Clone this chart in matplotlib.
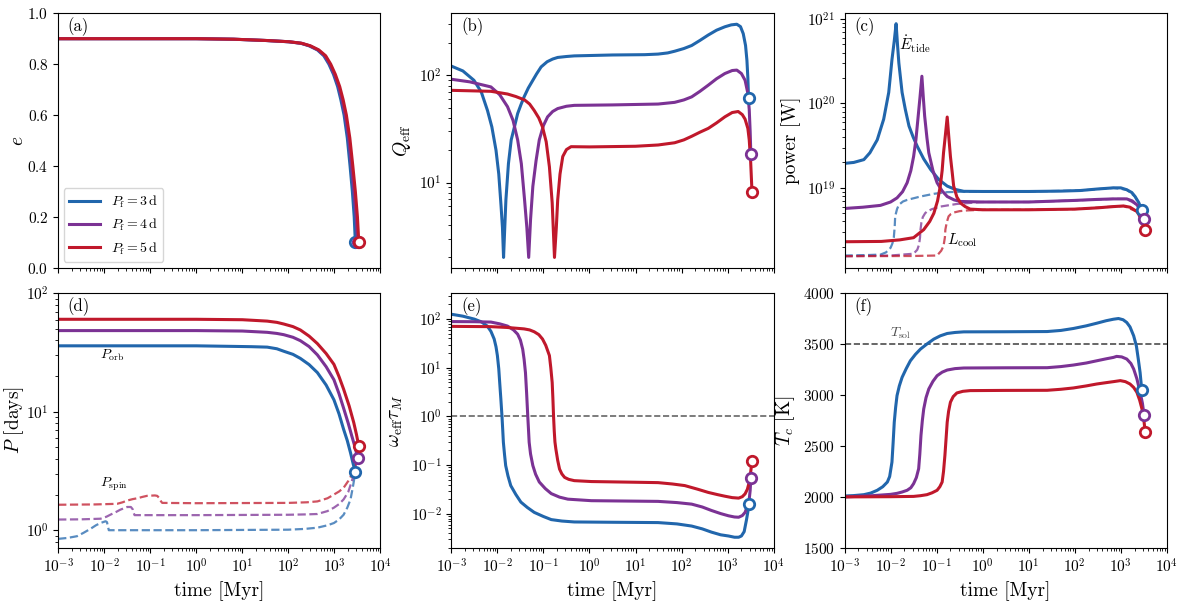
import numpy as np
import matplotlib
matplotlib.use('Agg')
import matplotlib.pyplot as plt

plt.rcParams['font.family'] = 'serif'
plt.rcParams['font.serif'] = ['cmr10', 'DejaVu Serif']
plt.rcParams['mathtext.fontset'] = 'cm'
plt.rcParams['axes.formatter.use_mathtext'] = True
plt.rcParams['axes.unicode_minus'] = False

# colours for P_f = 3, 4, 5 d
colors = ['#2166ac', '#7b3294', '#c0182b']
labels = [r'$P_{\rm f}=3\,{\rm d}$', r'$P_{\rm f}=4\,{\rm d}$', r'$P_{\rm f}=5\,{\rm d}$']

# all times are log10(t / Myr)

# ---- (a) eccentricity
e_track = [0.9, 0.9, 0.898, 0.893, 0.888, 0.882, 0.872, 0.856, 0.833, 0.80, 0.76, 0.712, 0.66, 0.60,
           0.51, 0.40, 0.30, 0.20, 0.10]
lt_e_3 = [-3, 0, 0.8, 1.5, 2.0, 2.27, 2.45, 2.63, 2.77, 2.88, 2.98, 3.07, 3.14, 3.21, 3.28, 3.34,
          3.39, 3.43, 3.455]
lt_e_4 = [-3, 0, 0.81, 1.51, 2.01, 2.28, 2.465, 2.645, 2.79, 2.9, 3.0, 3.095, 3.165, 3.235, 3.31,
          3.37, 3.425, 3.47, 3.505]
lt_e_5 = [-3, 0, 0.82, 1.52, 2.02, 2.29, 2.48, 2.66, 2.81, 2.92, 3.02, 3.115, 3.19, 3.26, 3.335,
          3.4, 3.455, 3.5, 3.53]

# ---- (b) Q_eff
lt_q_3 = [-3, -2.75, -2.51, -2.35, -2.215, -2.12, -2.03, -1.97, -1.92, -1.89, -1.866, -1.84, -1.815,
          -1.76, -1.7, -1.63, -1.56, -1.49, -1.42, -1.33, -1.23, -1.15, -1.05, -0.92, -0.8, -0.69,
          -0.5, -0.33, 0.5, 1.2, 1.49, 1.7, 1.85, 2.05, 2.22, 2.4, 2.58, 2.76, 2.94, 3.08, 3.2, 3.28,
          3.34, 3.39, 3.42, 3.44, 3.455]
q_3 = [122, 110, 90, 70, 47, 33, 20, 12, 6, 3.8, 2, 3.8, 6.9, 15, 25, 33, 44, 53, 63, 76, 90, 103,
       120, 134, 142, 147, 150, 152, 155, 156, 158, 162, 168, 178, 190, 212, 238, 264, 284, 296, 300,
       285, 245, 190, 138, 95, 61]
lt_q_4 = [-3, -2.6, -2.14, -1.95, -1.78, -1.66, -1.56, -1.48, -1.41, -1.36, -1.32, -1.28, -1.23,
          -1.16, -1.09, -1.0, -0.91, -0.8, -0.69, -0.5, -0.33, 0.5, 1.49, 1.85, 2.05, 2.22, 2.4,
          2.58, 2.76, 2.94, 3.1, 3.2, 3.3, 3.38, 3.44, 3.47, 3.49, 3.505]
q_4 = [92, 87, 78, 66, 51, 38, 25, 15, 6.9, 3.8, 2, 4.5, 9.2, 16, 25, 34, 41, 46, 49, 51.5, 52.5, 53,
       54, 56, 59, 63, 71, 81, 93, 104, 111, 112, 104, 90, 68, 48, 30, 18.5]
lt_q_5 = [-3, -2.14, -1.78, -1.6, -1.41, -1.3, -1.2, -1.1, -1.02, -0.94, -0.87, -0.81, -0.76, -0.72,
          -0.69, -0.64, -0.58, -0.5, -0.4, 0, 1.0, 1.49, 1.85, 2.05, 2.22, 2.4, 2.58, 2.76, 2.94, 3.1,
          3.23, 3.32, 3.38, 3.44, 3.47, 3.5, 3.53]
q_5 = [72.5, 71, 67, 63.5, 59, 54, 47, 40, 33, 24, 14, 6.5, 2, 3.8, 6.9, 12, 17.5, 20.3, 21.6, 21.5,
       21.8, 22.4, 23.5, 25, 27, 29.5, 32, 36, 41, 45, 46, 43, 39, 32, 25, 16, 8.2]

# ---- (c) tidal heating and cooling luminosity [W]
lt_et_3 = [-3, -2.8, -2.58, -2.45, -2.29, -2.15, -2.04, -1.97, -1.92, -1.88, -1.85, -1.82, -1.75,
           -1.68, -1.6, -1.51, -1.42, -1.28, -1.13, -0.95, -0.77, -0.6, -0.41, 0, 1, 1.7, 2.12, 2.5,
           2.84, 3.0, 3.13, 3.24, 3.31, 3.39, 3.457]
et_3 = [1.95e19, 2.0e19, 2.16e19, 2.6e19, 3.7e19, 6.5e19, 1.35e20, 3.3e20, 5.5e20, 8.8e20, 5.0e20,
        3.0e20, 1.35e20, 8.5e19, 5.4e19, 4.0e19, 3.1e19, 2.2e19, 1.65e19, 1.25e19, 1.05e19, 9.6e18,
        9.1e18, 9.06e18, 9.06e18, 9.15e18, 9.3e18, 9.7e18, 1.0e19, 1.0e19, 9.5e18, 8.8e18, 7.9e18,
        6.7e18, 5.45e18]
lt_et_4 = [-3, -2.6, -2.22, -2.0, -1.86, -1.74, -1.64, -1.56, -1.5, -1.45, -1.4, -1.36, -1.32, -1.29,
           -1.26, -1.21, -1.17, -1.08, -0.99, -0.88, -0.77, -0.62, -0.48, 0, 1, 2, 2.5, 2.84, 3.13,
           3.25, 3.35, 3.44, 3.505]
et_4 = [5.7e18, 5.9e18, 6.2e18, 6.8e18, 7.6e18, 9.0e18, 1.15e19, 1.6e19, 2.35e19, 3.7e19, 7.1e19,
        1.2e20, 2.1e20, 1.2e20, 7.1e19, 3.9e19, 2.6e19, 1.6e19, 1.15e19, 9.2e18, 7.9e18, 7.2e18,
        6.9e18, 6.8e18, 6.8e18, 7.1e18, 7.3e18, 7.4e18, 7.4e18, 7.0e18, 6.3e18, 5.4e18, 4.3e18]
lt_et_5 = [-3, -2.2, -1.8, -1.5, -1.28, -1.15, -1.06, -0.98, -0.92, -0.88, -0.85, -0.81, -0.77,
           -0.735, -0.7, -0.66, -0.63, -0.56, -0.48, -0.38, -0.27, 0, 1, 2, 2.5, 2.84, 3.06, 3.2,
           3.35, 3.45, 3.53]
et_5 = [2.3e18, 2.32e18, 2.42e18, 2.57e18, 3.2e18, 4.0e18, 5.0e18, 7.0e18, 1.05e19, 1.6e19, 2.6e19,
        4.2e19, 6.9e19, 4.0e19, 2.35e19, 1.5e19, 1.05e19, 7.8e18, 6.6e18, 6.0e18, 5.6e18, 5.5e18,
        5.5e18, 5.6e18, 5.8e18, 6.0e18, 6.1e18, 5.9e18, 5.25e18, 4.3e18, 3.2e18]

lt_lc_3 = [-3, -2.5, -2.22, -2.1, -2.0, -1.96, -1.93, -1.91, -1.9, -1.86, -1.82, -1.73, -1.64, -1.35,
           -1.06, -0.77, -0.41, 0, 1, 2.12, 2.84, 3.13, 3.31, 3.457]
lc_3 = [1.58e18, 1.6e18, 1.62e18, 1.72e18, 1.95e18, 2.2e18, 2.57e18, 3.5e18, 4.6e18, 5.6e18, 6.3e18,
        6.9e18, 7.2e18, 7.9e18, 8.5e18, 8.9e18, 9.0e18, 9.06e18, 9.06e18, 9.3e18, 1.0e19, 9.5e18,
        7.9e18, 5.45e18]
lt_lc_4 = [-3, -2, -1.5, -1.42, -1.38, -1.36, -1.35, -1.33, -1.3, -1.25, -1.21, -1.1, -0.92, -0.56,
           0, 1, 2, 2.84, 3.13, 3.35, 3.505]
lc_4 = [1.55e18, 1.58e18, 1.66e18, 1.85e18, 2.14e18, 2.6e18, 3.2e18, 3.9e18, 4.5e18, 5.0e18, 5.25e18,
        5.6e18, 6.0e18, 6.45e18, 6.8e18, 6.8e18, 7.1e18, 7.4e18, 7.4e18, 6.3e18, 4.3e18]
lt_lc_5 = [-3, -1.5, -0.99, -0.9, -0.85, -0.82, -0.81, -0.78, -0.74, -0.69, -0.63, -0.5, -0.34, 0,
           1, 2, 2.84, 3.06, 3.35, 3.53]
lc_5 = [1.55e18, 1.56e18, 1.58e18, 1.8e18, 2.05e18, 2.6e18, 3.2e18, 3.9e18, 4.6e18, 4.9e18, 5.1e18,
        5.3e18, 5.4e18, 5.5e18, 5.5e18, 5.6e18, 6.0e18, 6.1e18, 5.25e18, 3.2e18]

# ---- (d) orbital and spin periods [days]
lt_po_3 = [-3, 0, 0.82, 1.2, 1.54, 1.75, 1.9, 2.1, 2.26, 2.45, 2.63, 2.82, 2.99, 3.1, 3.2, 3.28, 3.35,
           3.41, 3.455]
po_3 = [36, 36, 35.6, 35.4, 35.1, 34, 32.4, 30.5, 28.2, 25, 21.4, 16.8, 12.6, 9.6, 7.1, 5.7, 4.5,
        3.6, 3.1]
lt_po_4 = [-3, 0, 1.0, 1.54, 1.75, 1.9, 2.1, 2.26, 2.45, 2.63, 2.82, 2.99, 3.1, 3.2, 3.3, 3.38, 3.45,
           3.505]
po_4 = [48.4, 48.4, 48, 46.8, 45.8, 44.7, 42.5, 39.8, 35.5, 30.2, 24, 18.6, 14.2, 10.7, 8.0, 6.2,
        5.0, 4.07]
lt_po_5 = [-3, 0, 1.0, 1.54, 1.75, 1.9, 2.1, 2.26, 2.45, 2.63, 2.82, 2.99, 3.1, 3.2, 3.32, 3.42, 3.48,
           3.53]
po_5 = [60.3, 60.3, 59.8, 58.2, 56.8, 55, 52.3, 49, 43.5, 37.6, 31, 25.1, 19.8, 15.5, 11.2, 8.1, 6.4,
        5.1]

lt_ps_3 = [-3, -2.8, -2.59, -2.45, -2.3, -2.18, -2.08, -1.97, -1.94, -1.92, -1.9, -1.5, 0, 2, 2.35,
           2.63, 2.85, 2.99, 3.1, 3.2, 3.28, 3.35, 3.4, 3.43, 3.455]
ps_3 = [0.845, 0.86, 0.89, 0.95, 1.026, 1.1, 1.15, 1.19, 1.17, 1.08, 1.0, 1.0, 1.0, 1.01, 1.025,
        1.05, 1.1, 1.15, 1.23, 1.35, 1.55, 1.82, 2.3, 2.7, 3.1]
lt_ps_4 = [-3, -2.5, -2.08, -1.95, -1.86, -1.75, -1.65, -1.5, -1.42, -1.38, -1.36, -1.34, -1.0, 0, 2,
           2.4, 2.63, 2.85, 2.99, 3.1, 3.2, 3.3, 3.38, 3.46, 3.505]
ps_4 = [1.23, 1.235, 1.25, 1.3, 1.355, 1.42, 1.49, 1.57, 1.57, 1.5, 1.4, 1.34, 1.34, 1.34, 1.35,
        1.36, 1.37, 1.45, 1.55, 1.66, 1.82, 2.1, 2.6, 3.47, 4.07]
lt_ps_5 = [-3, -2.2, -1.72, -1.6, -1.5, -1.38, -1.28, -1.17, -1.07, -0.9, -0.85, -0.81, -0.78, -0.74,
           0, 2, 2.4, 2.63, 2.85, 2.99, 3.1, 3.2, 3.3, 3.38, 3.45, 3.5, 3.53]
ps_5 = [1.64, 1.65, 1.67, 1.72, 1.78, 1.83, 1.86, 1.91, 1.95, 1.965, 1.95, 1.88, 1.78, 1.7, 1.69, 1.7,
        1.72, 1.75, 1.86, 2.0, 2.12, 2.28, 2.6, 2.95, 3.5, 4.3, 5.1]

# ---- (e) omega_eff * tau_M
lt_w_3 = [-3, -2.75, -2.5, -2.35, -2.22, -2.14, -2.07, -2.03, -2.0, -1.97, -1.95, -1.925, -1.9,
          -1.885, -1.87, -1.845, -1.82, -1.77, -1.71, -1.6, -1.49, -1.35, -1.2, -1.0, -0.83, -0.6,
          -0.33, 0.5, 1.49, 1.9, 2.22, 2.45, 2.65, 2.85, 3.02, 3.15, 3.24, 3.3, 3.36, 3.41, 3.44,
          3.455]
w_3 = [126, 115, 100, 88, 72, 56, 39, 27, 17.8, 9.5, 5.0, 2.3, 1.0, 0.55, 0.295, 0.165, 0.098, 0.06,
       0.038, 0.025, 0.0174, 0.0135, 0.0107, 0.0088, 0.0076, 0.0071, 0.0068, 0.0067, 0.0066, 0.0062,
       0.0056, 0.0049, 0.0042, 0.0037, 0.0035, 0.0033, 0.0033, 0.0035, 0.0043, 0.0075, 0.011, 0.016]
lt_w_4 = [-3, -2.5, -2.14, -1.95, -1.78, -1.65, -1.56, -1.5, -1.45, -1.42, -1.39, -1.365, -1.34,
          -1.325, -1.31, -1.28, -1.23, -1.17, -1.09, -0.96, -0.83, -0.65, -0.47, 0.04, 1.0, 1.49, 1.9,
          2.22, 2.45, 2.65, 2.85, 3.02, 3.15, 3.24, 3.32, 3.38, 3.43, 3.47, 3.49, 3.505]
w_4 = [89, 88.5, 87, 80, 72, 60, 49, 37, 24, 15, 7.9, 3.0, 1.0, 0.55, 0.295, 0.17, 0.098, 0.065,
       0.045, 0.033, 0.026, 0.022, 0.02, 0.0186, 0.0182, 0.018, 0.017, 0.0158, 0.0138, 0.0117,
       0.0101, 0.0091, 0.0086, 0.0085, 0.0092, 0.0107, 0.0145, 0.02, 0.03, 0.054]
lt_w_5 = [-3, -2.14, -1.8, -1.42, -1.3, -1.2, -1.1, -1.02, -0.95, -0.87, -0.84, -0.81, -0.795, -0.78,
          -0.765, -0.75, -0.73, -0.69, -0.65, -0.6, -0.54, -0.45, -0.33, 0.04, 1.0, 1.49, 1.8, 2.07,
          2.35, 2.58, 2.78, 2.94, 3.1, 3.24, 3.32, 3.38, 3.43, 3.47, 3.5, 3.53]
w_5 = [71, 70, 67.5, 63, 60, 55, 48, 39, 29, 17.8, 10, 5.0, 2.4, 1.0, 0.5, 0.3, 0.214, 0.125, 0.083,
       0.066, 0.056, 0.051, 0.048, 0.046, 0.0445, 0.0437, 0.041, 0.038, 0.032, 0.0275, 0.0248, 0.023,
       0.0215, 0.021, 0.0225, 0.0257, 0.032, 0.0447, 0.07, 0.12]

# ---- (f) core temperature [K]
lt_t_3 = [-3, -2.8, -2.58, -2.43, -2.29, -2.17, -2.07, -2.02, -1.97, -1.945, -1.92, -1.89, -1.86,
          -1.81, -1.75, -1.66, -1.57, -1.46, -1.35, -1.2, -1.06, -0.92, -0.77, -0.6, -0.41, 0.5, 1.4,
          1.7, 1.97, 2.25, 2.48, 2.68, 2.84, 2.95, 3.05, 3.13, 3.2, 3.28, 3.34, 3.38, 3.42, 3.455]
tc_3 = [2009, 2013, 2022, 2038, 2065, 2100, 2146, 2200, 2342, 2530, 2734, 2880, 2995, 3090, 3174,
        3260, 3337, 3400, 3452, 3505, 3550, 3582, 3605, 3615, 3621, 3622, 3624, 3635, 3654, 3680,
        3706, 3730, 3745, 3752, 3740, 3713, 3670, 3582, 3480, 3354, 3220, 3053]
lt_t_4 = [-3, -2.4, -2.0, -1.86, -1.75, -1.64, -1.56, -1.5, -1.44, -1.39, -1.365, -1.34, -1.31, -1.28,
          -1.23, -1.17, -1.08, -0.99, -0.88, -0.77, -0.6, -0.41, 0.5, 1.4, 1.7, 1.97, 2.25, 2.48, 2.68,
          2.84, 2.91, 3.02, 3.13, 3.22, 3.28, 3.35, 3.42, 3.47, 3.505]
tc_4 = [2000, 2012, 2025, 2035, 2048, 2065, 2090, 2130, 2190, 2277, 2420, 2603, 2750, 2864, 2975,
        3060, 3135, 3190, 3225, 3246, 3260, 3266, 3268, 3269, 3280, 3295, 3315, 3337, 3356, 3370,
        3380, 3375, 3354, 3310, 3256, 3160, 3027, 2920, 2805]
lt_t_5 = [-3, -2.0, -1.5, -1.35, -1.21, -1.1, -0.99, -0.93, -0.88, -0.85, -0.82, -0.795, -0.77,
          -0.74, -0.7, -0.64, -0.56, -0.43, -0.27, 0.5, 1.4, 1.7, 1.97, 2.25, 2.48, 2.68, 2.84, 2.99,
          3.1, 3.2, 3.28, 3.35, 3.41, 3.46, 3.5, 3.53]
tc_5 = [2000, 2002, 2005, 2012, 2022, 2040, 2065, 2100, 2146, 2250, 2407, 2570, 2734, 2840, 2930,
        2985, 3021, 3037, 3044, 3046, 3047, 3057, 3070, 3090, 3109, 3122, 3132, 3142, 3132, 3109,
        3075, 3027, 2950, 2864, 2760, 2642]

T_sol = 3500


def myr(lt):
    return 10.0 ** np.asarray(lt)


def draw(ax, lt, y, c, ls='-', lw=2.2, alpha=1.0, end=True, label=None):
    t = myr(lt)
    ax.plot(t, y, color=c, ls=ls, lw=lw, alpha=alpha, label=label)
    if end:
        ax.plot(t[-1], y[-1], 'o', ms=7.5, mfc='white', mec=c, mew=2, zorder=5)


fig, axes = plt.subplots(2, 3, figsize=(11.87, 6.02), dpi=100, sharex=True)
fig.subplots_adjust(left=0.049, right=0.983, top=0.978, bottom=0.09, hspace=0.10, wspace=0.22)
(axa, axb, axc), (axd, axe, axf) = axes

# (a)
for lt, c, lab in zip([lt_e_3, lt_e_4, lt_e_5], colors, labels):
    draw(axa, lt, e_track, c, label=lab)
axa.set_ylim(0, 1)
axa.set_ylabel(r'$e$', fontsize=14, labelpad=0)
axa.legend(loc='lower left', fontsize=10, handlelength=2.2, borderaxespad=0.4)

# (b)
for lt, y, c in zip([lt_q_3, lt_q_4, lt_q_5], [q_3, q_4, q_5], colors):
    draw(axb, lt, y, c)
axb.set_yscale('log')
axb.set_ylim(1.6, 380)
axb.set_ylabel(r'$Q_{\rm eff}$', fontsize=14)

# (c)
for lt, y, c in zip([lt_lc_3, lt_lc_4, lt_lc_5], [lc_3, lc_4, lc_5], colors):
    draw(axc, lt, y, c, ls='--', lw=1.6, alpha=0.75, end=False)
for lt, y, c in zip([lt_et_3, lt_et_4, lt_et_5], [et_3, et_4, et_5], colors):
    draw(axc, lt, y, c)
axc.set_yscale('log')
axc.set_ylim(1.13e18, 1.17e21)
axc.set_ylabel('power [W]', fontsize=14)
axc.text(0.17, 0.855, r'$\dot{E}_{\rm tide}$', transform=axc.transAxes, fontsize=11)
axc.text(0.317, 0.09, r'$L_{\rm cool}$', transform=axc.transAxes, fontsize=11)

# (d)
for lt, y, c in zip([lt_ps_3, lt_ps_4, lt_ps_5], [ps_3, ps_4, ps_5], colors):
    draw(axd, lt, y, c, ls='--', lw=1.6, alpha=0.75, end=False)
for lt, y, c in zip([lt_po_3, lt_po_4, lt_po_5], [po_3, po_4, po_5], colors):
    draw(axd, lt, y, c)
axd.set_yscale('log')
axd.set_ylim(0.71, 100)
axd.set_ylabel(r'$P$ [days]', fontsize=14, labelpad=0)
axd.text(0.13, 0.745, r'$P_{\rm orb}$', transform=axd.transAxes, fontsize=10)
axd.text(0.13, 0.24, r'$P_{\rm spin}$', transform=axd.transAxes, fontsize=10)

# (e)
axe.axhline(1.0, color='0.4', ls='--', lw=1.2)
for lt, y, c in zip([lt_w_3, lt_w_4, lt_w_5], [w_3, w_4, w_5], colors):
    draw(axe, lt, y, c)
axe.set_yscale('log')
axe.set_ylim(0.002, 340)
axe.set_ylabel(r'$\omega_{\rm eff}\tau_M$', fontsize=14)

# (f)
axf.axhline(T_sol, color='0.3', ls='--', lw=1.2)
for lt, y, c in zip([lt_t_3, lt_t_4, lt_t_5], [tc_3, tc_4, tc_5], colors):
    draw(axf, lt, y, c)
axf.set_ylim(1500, 4000)
axf.set_ylabel(r'$T_c$ [K]', fontsize=14)
axf.text(0.14, 0.83, r'$T_{\rm sol}$', transform=axf.transAxes, fontsize=10, color='0.3')

for ax, tag in zip(axes.flat, 'abcdef'):
    ax.set_xscale('log')
    ax.set_xlim(1e-3, 1e4)
    ax.text(0.03, 0.93, '(%s)' % tag, transform=ax.transAxes, fontsize=12)
    ax.tick_params(labelsize=11)
for ax in (axd, axe, axf):
    ax.set_xlabel('time [Myr]', fontsize=14)
    ax.set_xticks([1e-3, 1e-2, 1e-1, 1e0, 1e1, 1e2, 1e3, 1e4])

fig.savefig('out.png', dpi=100)
